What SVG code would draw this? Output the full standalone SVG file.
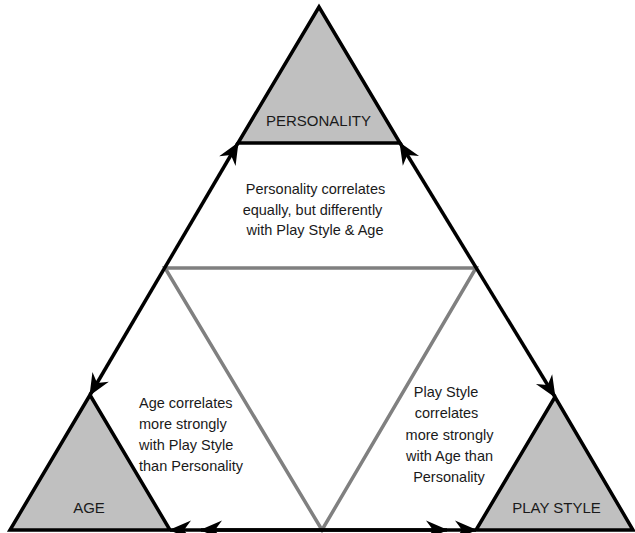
<svg xmlns="http://www.w3.org/2000/svg" width="635" height="533" viewBox="0 0 635 533">
<style>
.tri{fill:#c0c0c0;stroke:#000;stroke-width:3.5;stroke-linejoin:miter}
.inner{fill:none;stroke:#808080;stroke-width:3.5;stroke-linejoin:miter}
.conn{fill:none;stroke:#000;stroke-width:3.5;marker-start:url(#arr);marker-end:url(#arr)}
.lbl{font-family:"Liberation Sans",Arial,sans-serif;font-size:15px;fill:#1a1a1a;text-anchor:middle}
.txt{font-family:"Liberation Sans",Arial,sans-serif;font-size:14.5px;fill:#1a1a1a}
.mid{text-anchor:middle}
</style>
<defs>
<marker id="arr" viewBox="-24 -12 26 24" markerWidth="26" markerHeight="24" refX="0" refY="0" markerUnits="userSpaceOnUse" orient="auto-start-reverse">
<path d="M1,0 L-21,-9.5 L-14,0 L-21,9.5 Z" fill="#000"/>
</marker>
</defs>
<rect width="635" height="533" fill="#fff"/>
<g id="inner-triangle">
<polygon class="inner" points="165,268 476,268 322,530"/>
</g>
<g id="connectors">
<line class="conn" x1="238" y1="143" x2="90" y2="395"/>
<line class="conn" x1="400" y1="143" x2="555" y2="397"/>
<line class="conn" x1="170" y1="530" x2="476" y2="530"/>
<line class="conn" x1="201" y1="530" x2="447" y2="530"/>
</g>
<g id="personality">
<polygon class="tri" points="319,7 238,143 400,143"/>
<text class="lbl" x="318.5" y="126">PERSONALITY</text>
</g>
<g id="age">
<polygon class="tri" points="90,395 10,530 170,530"/>
<text class="lbl" x="89" y="513">AGE</text>
</g>
<g id="play-style">
<polygon class="tri" points="555,397 476,530 633,530"/>
<text class="lbl" x="556.5" y="513">PLAY STYLE</text>
</g>
<g id="personality-note" class="txt mid">
<text x="315.5" y="194">Personality correlates</text>
<text x="312.5" y="214.5">equally, but differently</text>
<text x="315" y="235">with Play Style &amp; Age</text>
</g>
<g id="age-note" class="txt">
<text x="139" y="408">Age correlates</text>
<text x="139" y="429">more strongly</text>
<text x="139" y="450">with Play Style</text>
<text x="139" y="471">than Personality</text>
</g>
<g id="play-style-note" class="txt mid">
<text x="446" y="397">Play Style</text>
<text x="446.5" y="418">correlates</text>
<text x="449.5" y="440">more strongly</text>
<text x="449.5" y="461">with Age than</text>
<text x="449" y="482">Personality</text>
</g>
</svg>
